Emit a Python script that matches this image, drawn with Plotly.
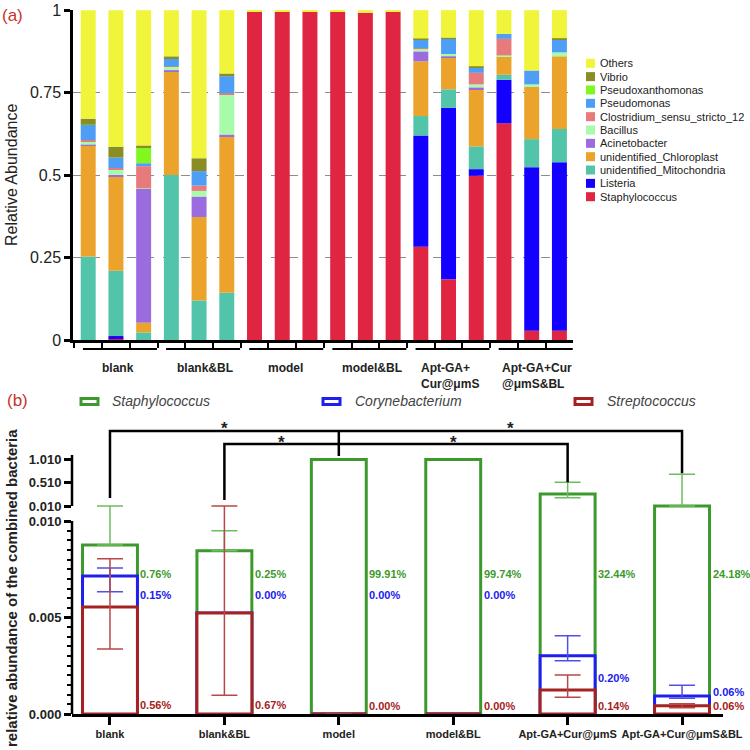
import numpy as np
import plotly.graph_objects as go

# ======================= panel (a) data =======================
samples = list(range(18))  # 3 replicates x 6 groups
group_names = ["blank", "blank&BL", "model", "model&BL",
               "Apt-GA+<br>Cur@μmS", "Apt-GA+Cur<br>@μmS&BL"]

staphylococcus = [0, 0.006, 0, 0, 0, 0, 0.996, 0.996, 0.996, 0.996, 0.992, 0.996,
                  0.283, 0.184, 0.498, 0.657, 0.028, 0.028]
listeria = [0, 0.006, 0, 0, 0, 0, 0, 0, 0, 0, 0, 0,
            0.337, 0.520, 0.020, 0.132, 0.496, 0.511]
mitochondria = [0.253, 0.198, 0.023, 0.500, 0.120, 0.143, 0, 0, 0, 0, 0, 0,
                0.059, 0.056, 0.069, 0.015, 0.085, 0.101]
chloroplast = [0.337, 0.287, 0.029, 0.315, 0.253, 0.475, 0, 0, 0, 0, 0, 0,
               0.166, 0.097, 0.171, 0.056, 0.160, 0.220]
acinetobacter = [0.002, 0.004, 0.406, 0.003, 0.062, 0.005, 0, 0, 0, 0, 0, 0,
                 0.030, 0.003, 0.008, 0, 0, 0]
bacillus = [0.010, 0.016, 0.002, 0.010, 0.017, 0.122, 0, 0, 0, 0, 0, 0,
            0.008, 0.007, 0.009, 0.003, 0.006, 0.012]
clostridium = [0.004, 0.004, 0.067, 0.002, 0.016, 0.003, 0, 0, 0, 0, 0, 0,
               0.002, 0, 0.035, 0.050, 0, 0]
pseudomonas = [0.046, 0.032, 0.009, 0.022, 0.044, 0.052, 0, 0, 0, 0, 0, 0,
               0.027, 0.047, 0.015, 0.015, 0.042, 0.040]
pseudoxanthomonas = [0.001, 0, 0.049, 0, 0, 0, 0, 0, 0, 0, 0, 0,
                     0, 0, 0, 0, 0, 0]
vibrio = [0.018, 0.033, 0.005, 0.008, 0.039, 0.008, 0, 0, 0, 0, 0, 0,
          0.002, 0.002, 0.005, 0, 0, 0.003]
others = [0.329, 0.414, 0.410, 0.140, 0.449, 0.192, 0.004, 0.004, 0.004, 0.004, 0.008, 0.004,
          0.086, 0.084, 0.170, 0.072, 0.183, 0.085]

genera = ["Staphylococcus", "Listeria", "unidentified_Mitochondria", "unidentified_Chloroplast",
          "Acinetobacter", "Bacillus", "Clostridium_sensu_stricto_12", "Pseudomonas",
          "Pseudoxanthomonas", "Vibrio", "Others"]
genus_values = [staphylococcus, listeria, mitochondria, chloroplast, acinetobacter, bacillus,
                clostridium, pseudomonas, pseudoxanthomonas, vibrio, others]
genus_colors = ["#DF2541", "#1400FF", "#52C4A9", "#EBA32C", "#9B6BE0", "#A8FBA8",
                "#E87A7C", "#4F9EF5", "#80F820", "#8A8C24", "#F0F43A"]

# ======================= panel (b) data =======================
b_groups = ["blank", "blank&BL", "model", "model&BL", "Apt-GA+Cur@μmS", "Apt-GA+Cur@μmS&BL"]
b_x = list(range(6))
nan = np.nan
staph_top = [0.00876, 0.00846, 1.008, 1.008, 0.267, 0.0102]
staph_err_up = [0.00134, 0.00104, nan, nan, 0.25, 0.679]
staph_err_dn = [0.0, 0.0, nan, nan, 0.08, 0.0]
coryne_top = [0.00715, 0.00523, 0.0, 0.0, 0.00302, 0.00093]
coryne_err_up = [0.00041, nan, nan, nan, 0.00104, 0.00056]
coryne_err_dn = [0.00081, nan, nan, nan, 0.00026, 0.00012]
strep_top = [0.00554, 0.00523, 0.0, 0.0, 0.00124, 0.00043]
strep_err_up = [0.0025, 0.00487, 0.0, nan, 0.00078, 0.0001]
strep_err_dn = [0.00217, 0.00426, 0.0, nan, 0.00037, 0.0001]
staph_pct = [0.76, 0.25, 99.91, 99.74, 32.44, 24.18]
coryne_pct = [0.15, 0.00, 0.00, 0.00, 0.20, 0.06]
strep_pct = [0.56, 0.67, 0.00, 0.00, 0.14, 0.06]

# label heights (display units of the broken axis)
staph_lab_y = [140.5, 140.5, 140.5, 140.5, 140.5, 140.5]
coryne_lab_y = [119, 119, 119, 119, 36, 22]
strep_lab_y = [9, 9, 8, 8, 8, 8]

GREEN, BLUE, RED = "#3C9A2C", "#2020EE", "#A52222"
GREEN_E, BLUE_E, RED_E = "#6DBE5E", "#5050E6", "#B84848"

# ---- broken y axis: 0..0.010 lower segment, gap, 0.010..1.010 upper segment ----
LOW = 19300.0
GAP = 15.0
UP = 46.7


def brk(v):
    v = np.asarray(v, dtype=float)
    return np.where(v <= 0.010, v * LOW, 0.010 * LOW + GAP + (v - 0.010) * UP)


def brk_upper(v):
    v = np.asarray(v, dtype=float)
    return 0.010 * LOW + GAP + (v - 0.010) * UP


FONT = "Arial, Liberation Sans, sans-serif"
W = H = 750.0


def px(xp):
    return xp / W


def py(yp):
    return 1 - yp / H


fig = go.Figure()

# ---------------- panel (a) stacked bars ----------------
cum = np.zeros(len(samples))
for name, vals, col in zip(genera, genus_values, genus_colors):
    v = np.asarray(vals, dtype=float)
    fig.add_trace(go.Bar(x=samples, y=v, base=cum.copy(), width=0.54, name=name,
                         marker=dict(color=col, line=dict(width=0)),
                         xaxis="x", yaxis="y", showlegend=False))
    cum = cum + v

# ---------------- panel (b) overlaid outline bars ----------------
def add_b(top, eu, ed, col, ecol, name):
    top = np.asarray(top, dtype=float)
    eu = np.asarray(eu, dtype=float)
    ed = np.asarray(ed, dtype=float)
    yd = brk(top)
    up = brk(top + eu) - yd
    dn = yd - brk(top - ed)
    fig.add_trace(go.Bar(x=b_x, y=yd, base=0, width=0.48, name=name,
                         marker=dict(color="white", line=dict(color=col, width=3)),
                         error_y=dict(type="data", symmetric=False, array=up, arrayminus=dn,
                                      color=ecol, thickness=1.5, width=13),
                         xaxis="x2", yaxis="y2", showlegend=False))


add_b(staph_top, staph_err_up, staph_err_dn, GREEN, GREEN_E, "Staphylococcus")
add_b(coryne_top, coryne_err_up, coryne_err_dn, BLUE, BLUE_E, "Corynebacterium")
add_b(strep_top, strep_err_up, strep_err_dn, RED, RED_E, "Streptococcus")

shapes = []
annotations = []

# ---- panel (a) group lines and labels ----
grp_label_x = [1.06, 4.2, 7.13, 10.23, 13.06, 16.19]
for g, lab in enumerate(group_names):
    shapes.append(dict(type="line", xref="x", yref="paper", x0=3 * g - 0.19, x1=3 * g + 2.48,
                       y0=py(349), y1=py(349), line=dict(color="black", width=2)))
    annotations.append(dict(text=lab, xref="x", yref="paper", x=grp_label_x[g], y=py(358.5),
                            xanchor="center", yanchor="top", align="left", showarrow=False,
                            font=dict(family=FONT, size=12, color="#222", weight="bold")))

# ---- panel (a) legend ----
for k, (name, col) in enumerate(zip(genera[::-1], genus_colors[::-1])):
    yc = 63.3 + 13.34 * k
    shapes.append(dict(type="rect", xref="paper", yref="paper", x0=px(586), x1=px(595),
                       y0=py(yc + 4.5), y1=py(yc - 4.5), fillcolor=col, line=dict(width=0)))
    annotations.append(dict(text=name, xref="paper", yref="paper", x=px(598), y=py(yc),
                            xanchor="left", yanchor="middle", showarrow=False,
                            font=dict(family=FONT, size=11, color="#222")))

# ---- panel labels and axis titles ----
annotations.append(dict(text="(a)", xref="paper", yref="paper", x=px(0), y=py(16), xanchor="left",
                        yanchor="middle", showarrow=False, font=dict(family=FONT, size=17, color="#C8322D")))
annotations.append(dict(text="(b)", xref="paper", yref="paper", x=px(5), y=py(401), xanchor="left",
                        yanchor="middle", showarrow=False, font=dict(family=FONT, size=17, color="#C8322D")))
annotations.append(dict(text="Relative Abundance", xref="paper", yref="paper", x=px(11), y=py(175),
                        textangle=-90, xanchor="center", yanchor="middle", showarrow=False,
                        font=dict(family=FONT, size=16, color="#222")))
annotations.append(dict(text="relative abundance of the combined bacteria", xref="paper", yref="paper",
                        x=px(11), y=py(588), textangle=-90, xanchor="center", yanchor="middle",
                        showarrow=False, font=dict(family=FONT, size=15, color="#222", weight="bold")))

# ---- panel (b) legend ----
b_leg = [("Staphylococcus", GREEN, 80, 110), ("Corynebacterium", BLUE, 322, 353),
         ("Streptococcus", RED, 574, 605)]
for name, col, x0, xt in b_leg:
    shapes.append(dict(type="rect", xref="paper", yref="paper", x0=px(x0 + 1), x1=px(x0 + 18),
                       y0=py(404.5), y1=py(398.5), fillcolor="white", line=dict(color=col, width=3)))
    annotations.append(dict(text="<i>" + name + "</i>", xref="paper", yref="paper", x=px(xt), y=py(401),
                            xanchor="left", yanchor="middle", showarrow=False,
                            font=dict(family=FONT, size=14, color="#444")))

# ---- panel (b) percentage labels ----
for pcts, ys, col in [(staph_pct, staph_lab_y, GREEN), (coryne_pct, coryne_lab_y, BLUE),
                      (strep_pct, strep_lab_y, RED)]:
    for i, (p, yv) in enumerate(zip(pcts, ys)):
        annotations.append(dict(text=f"{p:.2f}%", xref="x2", yref="y2", x=i + 0.24, y=yv, xshift=1,
                                xanchor="left", yanchor="middle", showarrow=False,
                                font=dict(family=FONT, size=11, color=col, weight="bold")))

# ---- panel (b) broken y axis lines ----
shapes.append(dict(type="line", xref="paper", yref="y2", x0=px(72), x1=px(72), y0=0, y1=193,
                   line=dict(color="black", width=2.5)))
shapes.append(dict(type="line", xref="paper", yref="y2", x0=px(72), x1=px(72), y0=208, y1=259,
                   line=dict(color="black", width=2.5)))

# ---- significance brackets ----
shapes.append(dict(type="path", xref="x2", yref="y2",
                   path="M 0,216 L 0,283 L 5,283 L 5,240.7",
                   line=dict(color="black", width=2.5)))
shapes.append(dict(type="line", xref="x2", yref="y2", x0=2, x1=2, y0=283, y1=258,
                   line=dict(color="black", width=2.5)))
shapes.append(dict(type="path", xref="x2", yref="y2",
                   path="M 1,214 L 1,270 L 4,270 L 4,231.7",
                   line=dict(color="black", width=2.5)))
for sx, sy in [(1.0, 286), (3.5, 286), (1.5, 272), (3.0, 272)]:
    annotations.append(dict(text="*", xref="x2", yref="y2", x=sx, y=sy, xanchor="center",
                            yanchor="middle", showarrow=False,
                            font=dict(family=FONT, size=17, color="#222", weight="bold")))

# ---- axes ----
low_ticks = [0.0, 0.005, 0.010]
up_ticks = [0.010, 0.510, 1.010]
yt_vals = list(brk(low_ticks)) + list(brk_upper(up_ticks))
yt_text = [f"{v:.3f}" for v in low_ticks + up_ticks]
minor_vals = [float(v) for v in brk(np.arange(1, 20) * 0.0005) if abs(v - brk(0.005)) > 1e-6]

fig.update_layout(
    width=750, height=750, autosize=False,
    margin=dict(l=0, r=0, t=0, b=0, pad=0, autoexpand=False),
    paper_bgcolor="white", plot_bgcolor="white",
    barmode="overlay",
    showlegend=False,
    font=dict(family=FONT, color="#222"),
    xaxis=dict(domain=[px(73), px(573)], range=[-0.5485, 17.49], anchor="y", automargin=False,
               showline=True, linecolor="black", linewidth=2.5,
               ticks="outside", ticklen=5, tickwidth=2, tickcolor="black",
               tickmode="array", tickvals=[i - 0.5 for i in range(19)],
               showticklabels=False, showgrid=False, zeroline=False, fixedrange=True),
    yaxis=dict(domain=[py(340), py(10)], range=[0, 1.0005], anchor="x", automargin=False,
               showline=True, linecolor="black", linewidth=2.5, ticklabeloverflow="allow",
               ticks="outside", ticklen=6, tickwidth=2.5, tickcolor="black",
               tickmode="array", tickvals=[0, 0.25, 0.5, 0.75, 1],
               ticktext=["0", "0.25", "0.5", "0.75", "1"],
               tickfont=dict(family=FONT, size=16, color="#222"),
               showgrid=False, zeroline=False, fixedrange=True,
               minor=dict(tickmode="array", tickvals=[0.25, 0.5, 0.75], ticks="",
                          showgrid=True, gridcolor="#8C8C8C", griddash="dash", gridwidth=1)),
    xaxis2=dict(domain=[px(72), px(723)], range=[-0.332, 5.358], anchor="y2", automargin=False,
                showline=True, linecolor="black", linewidth=2.5, tickangle=0,
                ticklabeloverflow="allow",
                ticks="outside", ticklen=8, tickwidth=2.5, tickcolor="black",
                tickmode="array", tickvals=b_x, ticktext=b_groups,
                tickfont=dict(family=FONT, size=11, color="#222", weight="bold"),
                showgrid=False, zeroline=False, fixedrange=True),
    yaxis2=dict(domain=[py(714), py(415)], range=[0, 299], anchor="x2", automargin=False,
                showline=False, ticks="outside", ticklen=7, tickwidth=2.5, tickcolor="black",
                ticklabeloverflow="allow",
                tickmode="array", tickvals=yt_vals, ticktext=yt_text,
                tickfont=dict(family=FONT, size=13, color="#222", weight="bold"),
                showgrid=False, zeroline=False, fixedrange=True,
                minor=dict(tickmode="array", tickvals=minor_vals, ticks="outside",
                           ticklen=4, tickwidth=2, tickcolor="black", showgrid=False)),
    shapes=shapes,
    annotations=annotations,
)

fig.write_html("out.html")
